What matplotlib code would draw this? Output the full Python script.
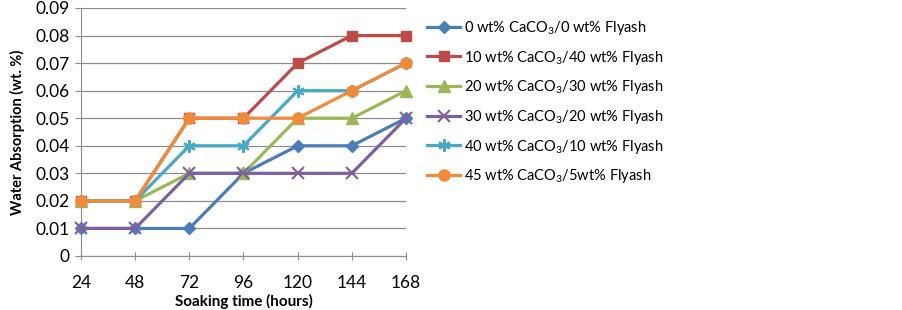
import matplotlib
matplotlib.use("Agg")
import matplotlib.pyplot as plt

plt.rcParams['font.family'] = ['Lato', 'DejaVu Sans']
plt.rcParams['mathtext.fontset'] = 'custom'
plt.rcParams['mathtext.rm'] = 'Lato'
plt.rcParams['mathtext.it'] = 'Lato'

hours = ['24', '48', '72', '96', '120', '144', '168']
s0 = [0.01, 0.01, 0.01, 0.03, 0.04, 0.04, 0.05]
s10 = [0.02, 0.02, 0.05, 0.05, 0.07, 0.08, 0.08]
s20 = [0.02, 0.02, 0.03, 0.03, 0.05, 0.05, 0.06]
s30 = [0.01, 0.01, 0.03, 0.03, 0.03, 0.03, 0.05]
s40 = [0.02, 0.02, 0.04, 0.04, 0.06, 0.06, 0.07]
s45 = [0.02, 0.02, 0.05, 0.05, 0.05, 0.06, 0.07]
labels = [r'0 wt% CaCO$_3$/0 wt% Flyash',
          r'10 wt% CaCO$_3$/40 wt% Flyash',
          r'20 wt% CaCO$_3$/30 wt% Flyash',
          r'30 wt% CaCO$_3$/20 wt% Flyash',
          r'40 wt% CaCO$_3$/10 wt% Flyash',
          r'45 wt% CaCO$_3$/5wt% Flyash']
yticks = [0, 0.01, 0.02, 0.03, 0.04, 0.05, 0.06, 0.07, 0.08, 0.09]
yticklabels = ['0', '0.01', '0.02', '0.03', '0.04', '0.05', '0.06', '0.07', '0.08', '0.09']

series = [s0, s10, s20, s30, s40, s45]
colors = ['#4A7EBB', '#BE4B48', '#98B954', '#7D60A0', '#46AAC5', '#F38A3A']
markers = ['D', 's', '^', 'x', (6, 2, 0), 'o']
msizes = [6, 7.5, 8, 8, 9, 8]

fig = plt.figure(figsize=(9.03, 3.10), dpi=100)
ax = fig.add_axes([81/903, 1-256/310, (406-81)/903, (256-8)/310])
x = list(range(len(hours)))
handles = []
for ys, c, m, ms, lab in zip(series, colors, markers, msizes, labels):
    mew = 1.5 if m in ('x', (6, 2, 0)) else 1
    h, = ax.plot(x, ys, color=c, lw=2.3, marker=m, markersize=ms,
                 markerfacecolor=c, markeredgecolor=c, markeredgewidth=mew,
                 clip_on=False, label=lab, zorder=3)
    handles.append(h)

ax.set_xlim(0, len(hours)-1)
ax.set_ylim(0, 0.09)
ax.set_xticks(x)
ax.set_xticklabels(hours, fontsize=12.5)
ax.set_yticks(yticks)
ax.set_yticklabels(yticklabels, fontsize=12.5)
ax.yaxis.grid(True, color='#8C8C8C', lw=0.9)
ax.set_axisbelow(True)
for sp in ['top', 'right']:
    ax.spines[sp].set_visible(False)
ax.spines['left'].set_color('#8C8C8C')
ax.spines['bottom'].set_color('#8C8C8C')
ax.tick_params(axis='y', color='#8C8C8C', length=4, direction='out', pad=4)
ax.tick_params(axis='x', color='#8C8C8C', length=6, direction='inout', pad=11)
ax.set_xlabel('Soaking time (hours)', fontsize=11, fontweight='bold', labelpad=2)
ax.set_ylabel('Water Absorption (wt. %)', fontsize=10.5, fontweight='bold', labelpad=8)

fig.legend(handles=handles, loc='upper left', bbox_to_anchor=(421/903, 1-13/310),
           frameon=False, fontsize=10.5, handlelength=2.3, labelspacing=0.8,
           handletextpad=0.25, borderaxespad=0)

fig.savefig('out.png', dpi=100)
